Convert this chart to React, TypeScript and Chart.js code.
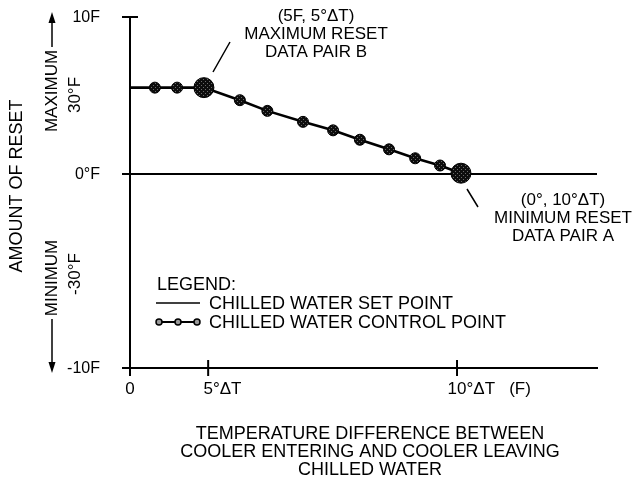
import React, { useEffect, useRef } from "react";
import { Chart, registerables } from "chart.js";

Chart.register(...registerables);

// ---- data ----
const xMin = 0;
const xMax = 14.28;
const yMin = -12.36;
const yMax = 10;

const xTickValues = [0, 2.39, 10];
const xTickLabels = ["0", "5°ΔT", "10°ΔT   (F)"];
const xTickNumerals = ["0", "5", "10"];

const yTickValues = [-12.36, 0, 10];
const yTickLabels = ["-10F", "0°F", "10F"];

const setPointLabel = "CHILLED WATER SET POINT";
const setPointX = [0, 14.28];
const setPointY = [0, 0];

const controlLabel = "CHILLED WATER CONTROL POINT";
const controlX = [0, 0.76, 1.44, 2.26, 3.36, 4.2, 5.29, 6.21, 7.03, 7.92, 8.72, 9.48, 10.12];
const controlY = [5.5, 5.5, 5.5, 5.5, 4.7, 4.02, 3.32, 2.78, 2.18, 1.57, 1.0, 0.54, 0.05];

const annotationB = ["(5F, 5°ΔT)", "MAXIMUM RESET", "DATA PAIR B"];
const annotationA = ["(0°, 10°ΔT)", "MINIMUM RESET", "DATA PAIR A"];
const xTitle = [
  "TEMPERATURE DIFFERENCE BETWEEN",
  "COOLER ENTERING AND COOLER LEAVING",
  "CHILLED WATER",
];
const yTitle = "AMOUNT OF RESET";
const maxLabel = "MAXIMUM";
const maxValue = "30°F";
const minLabel = "MINIMUM";
const minValue = "-30°F";
const legendTitle = "LEGEND:";

// ---- styles ----
const FONT = "'Liberation Sans', Arial, Helvetica, sans-serif";
const controlRadius = [0, 5.5, 5.5, 10, 5.5, 5.5, 5.5, 5.5, 5.5, 5.5, 5.5, 5.5, 10];

function makePattern(): CanvasPattern | string {
  const c = document.createElement("canvas");
  c.width = 4;
  c.height = 4;
  const g = c.getContext("2d");
  if (!g) return "#111";
  g.fillStyle = "#0d0d0d";
  g.fillRect(0, 0, 4, 4);
  g.fillStyle = "#6a6a6a";
  g.fillRect(1, 1, 1, 1);
  g.fillRect(3, 3, 1, 1);
  const p = g.createPattern(c, "repeat");
  return p || "#111";
}

function arrow(ctx: CanvasRenderingContext2D, x: number, y1: number, y2: number) {
  // vertical line from y1 to tip at y2
  const dir = y2 > y1 ? 1 : -1;
  ctx.beginPath();
  ctx.moveTo(x, y1);
  ctx.lineTo(x, y2 - dir * 8);
  ctx.lineWidth = 1.5;
  ctx.strokeStyle = "#000";
  ctx.stroke();
  ctx.beginPath();
  ctx.moveTo(x, y2);
  ctx.lineTo(x - 3.5, y2 - dir * 11);
  ctx.lineTo(x + 3.5, y2 - dir * 11);
  ctx.closePath();
  ctx.fillStyle = "#000";
  ctx.fill();
}

function rotText(ctx: CanvasRenderingContext2D, text: string, x: number, y: number, size: number) {
  ctx.save();
  ctx.translate(x, y);
  ctx.rotate(-Math.PI / 2);
  ctx.font = `${size}px ${FONT}`;
  ctx.textAlign = "center";
  ctx.textBaseline = "middle";
  ctx.fillStyle = "#000";
  ctx.fillText(text, 0, 0);
  ctx.restore();
}

const decorPlugin = {
  id: "decor",
  afterDraw(chart: any) {
    const ctx: CanvasRenderingContext2D = chart.ctx;
    const xs = chart.scales.x;
    const ys = chart.scales.y;
    const area = chart.chartArea;
    ctx.save();
    ctx.fillStyle = "#000";
    ctx.strokeStyle = "#000";

    // crossing tick marks
    ctx.lineWidth = 2;
    xs.ticks.forEach((t: any) => {
      const px = xs.getPixelForValue(t.value);
      ctx.beginPath();
      ctx.moveTo(px, area.bottom - 8);
      ctx.lineTo(px, area.bottom + 8);
      ctx.stroke();
    });
    ys.ticks.forEach((t: any) => {
      const py = ys.getPixelForValue(t.value);
      ctx.beginPath();
      ctx.moveTo(area.left - 8, py);
      ctx.lineTo(area.left + 8, py);
      ctx.stroke();
    });

    // y tick labels
    ctx.font = `16px ${FONT}`;
    ctx.textAlign = "right";
    ctx.textBaseline = "middle";
    yTickValues.forEach((v, i) => {
      ctx.fillText(yTickLabels[i], area.left - 30, ys.getPixelForValue(v) + 1);
    });

    // x tick labels (numeral centred under the tick)
    ctx.font = `17px ${FONT}`;
    ctx.textAlign = "left";
    xTickValues.forEach((v, i) => {
      const px = xs.getPixelForValue(v);
      const w = ctx.measureText(xTickNumerals[i]).width;
      ctx.fillText(xTickLabels[i], px - w / 2, area.bottom + 21);
    });

    // x title
    ctx.font = `18px ${FONT}`;
    ctx.textAlign = "center";
    xTitle.forEach((line, i) => {
      ctx.fillText(line, 370, 434 + i * 18);
    });

    // left side labels
    rotText(ctx, yTitle, 17, 186, 18);
    rotText(ctx, maxLabel, 52, 91, 17);
    rotText(ctx, maxValue, 75, 95, 17);
    rotText(ctx, minLabel, 52, 278, 17);
    rotText(ctx, minValue, 75, 274, 17);
    arrow(ctx, 52, 47, 12);
    arrow(ctx, 52, 319, 373);

    // annotations
    ctx.font = `17px ${FONT}`;
    ctx.textAlign = "center";
    ctx.fillStyle = "#000";
    annotationB.forEach((line, i) => ctx.fillText(line, 316, 16 + i * 18));
    annotationA.forEach((line, i) => ctx.fillText(line, 563, 200 + i * 18));
    ctx.lineWidth = 1.5;
    ctx.beginPath();
    ctx.moveTo(230, 42);
    ctx.lineTo(213, 72);
    ctx.moveTo(467, 189);
    ctx.lineTo(478, 207);
    ctx.stroke();

    // legend
    ctx.font = `18px ${FONT}`;
    ctx.textAlign = "left";
    ctx.fillText(legendTitle, 157, 285);
    ctx.fillText(chart.data.datasets[0].label, 209, 304);
    ctx.fillText(chart.data.datasets[1].label, 209, 323);
    ctx.lineWidth = 1.5;
    ctx.beginPath();
    ctx.moveTo(156, 303);
    ctx.lineTo(200, 303);
    ctx.stroke();
    ctx.lineWidth = 2;
    ctx.beginPath();
    ctx.moveTo(159, 322);
    ctx.lineTo(197, 322);
    ctx.stroke();
    [159, 178, 197].forEach((cx) => {
      ctx.beginPath();
      ctx.arc(cx, 322, 3, 0, Math.PI * 2);
      ctx.fillStyle = "#9a9a9a";
      ctx.fill();
      ctx.lineWidth = 1.5;
      ctx.stroke();
    });

    ctx.restore();
  },
};

export default function App() {
  const ref = useRef<HTMLCanvasElement | null>(null);

  useEffect(() => {
    if (!ref.current) return;
    const pattern = makePattern();
    const chart = new Chart(ref.current, {
      type: "scatter",
      data: {
        datasets: [
          {
            label: setPointLabel,
            data: setPointX.map((x, i) => ({ x, y: setPointY[i] })),
            showLine: true,
            borderColor: "#000",
            borderWidth: 1.8,
            pointRadius: 0,
            order: 2,
          },
          {
            label: controlLabel,
            data: controlX.map((x, i) => ({ x, y: controlY[i] })),
            showLine: true,
            borderColor: "#000",
            borderWidth: 2.6,
            pointRadius: controlRadius,
            pointBackgroundColor: pattern as any,
            pointBorderColor: "#000",
            pointBorderWidth: 1,
            order: 1,
          },
        ],
      },
      options: {
        responsive: false,
        animation: false,
        events: [],
        layout: { padding: { left: 130, right: 42, top: 17, bottom: 113 } },
        plugins: {
          legend: { display: false },
          tooltip: { enabled: false },
        },
        scales: {
          x: {
            type: "linear",
            min: xMin,
            max: xMax,
            ticks: { display: false },
            grid: { display: false, drawTicks: false },
            border: { display: true, color: "#000", width: 2 },
            afterBuildTicks: (s: any) => {
              s.ticks = xTickValues.map((v) => ({ value: v }));
            },
          },
          y: {
            type: "linear",
            min: yMin,
            max: yMax,
            ticks: { display: false },
            grid: { display: false, drawTicks: false },
            border: { display: true, color: "#000", width: 2 },
            afterBuildTicks: (s: any) => {
              s.ticks = yTickValues.map((v) => ({ value: v }));
            },
          },
        },
      },
      plugins: [decorPlugin],
    });
    return () => chart.destroy();
  }, []);

  return (
    <div style={{ position: "fixed", left: 0, top: 0, width: 639, height: 481, background: "#fff" }}>
      <canvas ref={ref} width={639} height={481} />
    </div>
  );
}
